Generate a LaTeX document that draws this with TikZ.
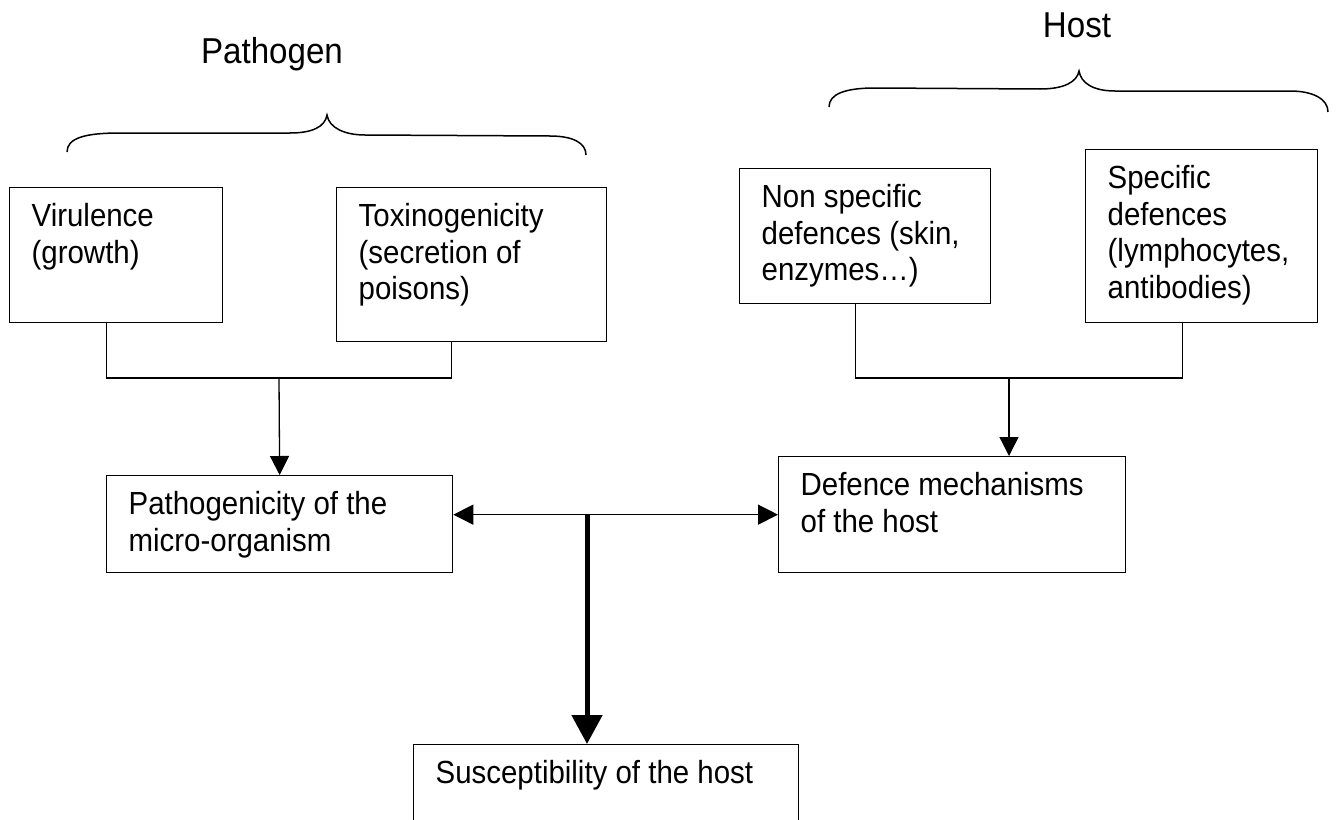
\documentclass[tikz,border=0pt]{standalone}
\usepackage{fontspec}
\setmainfont{Liberation Sans}[FakeStretch=0.92]
\usetikzlibrary{arrows.meta}
\newcommand{\boxtext}[3]{\parbox[t][#2][t]{#1}{\raggedright #3}}

\begin{document}
\begin{tikzpicture}[x=1pt,y=-1pt,line width=1.3pt,
    box/.style={draw,anchor=north west,inner xsep=22pt,inner ysep=16pt,font=\fontsize{32}{36.5}\selectfont},
    title/.style={anchor=base,font=\fontsize{36}{40}\selectfont},
    arr/.style={-{Triangle[length=19pt,width=19pt]}},
    dblarr/.style={{Triangle[length=20pt,width=20pt]}-{Triangle[length=20pt,width=20pt]}},
    bigarr/.style={line width=5pt,-{Triangle[length=29pt,width=30pt]}},
    brace/.style={line width=1.5pt}]
    \clip (0,0) rectangle (1337,819);
    % titles and braces
    \node[title] (ptitle) at (272,63) {Pathogen};
    \node[title] (htitle) at (1077,37) {Host};
    \draw[brace] (67,152) .. controls (67,138) and (85,133) .. (120,133) -- (290,133)
      .. controls (312,133) and (325,127) .. (327,115) .. controls (329,128) and (345,135) .. (365,135)
      -- (550,136) .. controls (573,136) and (586,143) .. (586,155);
    \draw[brace] (829,107) .. controls (829,94) and (845,88) .. (875,88) -- (1040,89)
      .. controls (1064,89) and (1077,82) .. (1079,71) .. controls (1081,83) and (1093,91) .. (1115,91)
      -- (1290,91) .. controls (1313,91) and (1328,99) .. (1328,112);
    % pathogen side
    \node[box] (vir) at (9,187) {\boxtext{169pt}{103pt}{Virulence\\(growth)}};
    \node[box] (tox) at (336,187) {\boxtext{226pt}{122pt}{Toxinogenicity\\(secretion of\\poisons)}};
    \node[box] (path) at (106,475) {\boxtext{302pt}{65pt}{Pathogenicity of the\\micro-organism}};
    \coordinate (pj) at (279,378);
    \draw ([xshift=-10pt]vir.south) |- (pj) -| ([xshift=-20pt]tox.south);
    \draw[arr] (pj) -- (path.north);
    % host side
    \node[box] (nonsp) at (739,168) {\boxtext{207pt}{103pt}{Non specific\\defences (skin,\\enzymes…)}};
    \node[box] (spec) at (1085,149) {\boxtext{188pt}{141pt}{Specific\\defences\\(lymphocytes,\\antibodies)}};
    \node[box] (def) at (778,456) {\boxtext{303pt}{84pt}{Defence mechanisms\\of the host}};
    \coordinate (hj) at (1009,378);
    \draw ([xshift=-9.5pt]nonsp.south) |- (hj) -| ([xshift=-19pt]spec.south);
    \draw[arr] (hj) -- (hj |- def.north);
    % result
    \node[box] (sus) at (413,744) {\boxtext{341pt}{78pt}{Susceptibility of the host}};
    \draw[dblarr] (path.east |- def.west) -- (def.west);
    \coordinate (mid) at (587,514);
    \draw[bigarr] (mid) -- (mid |- sus.north);
\end{tikzpicture}
\end{document}
